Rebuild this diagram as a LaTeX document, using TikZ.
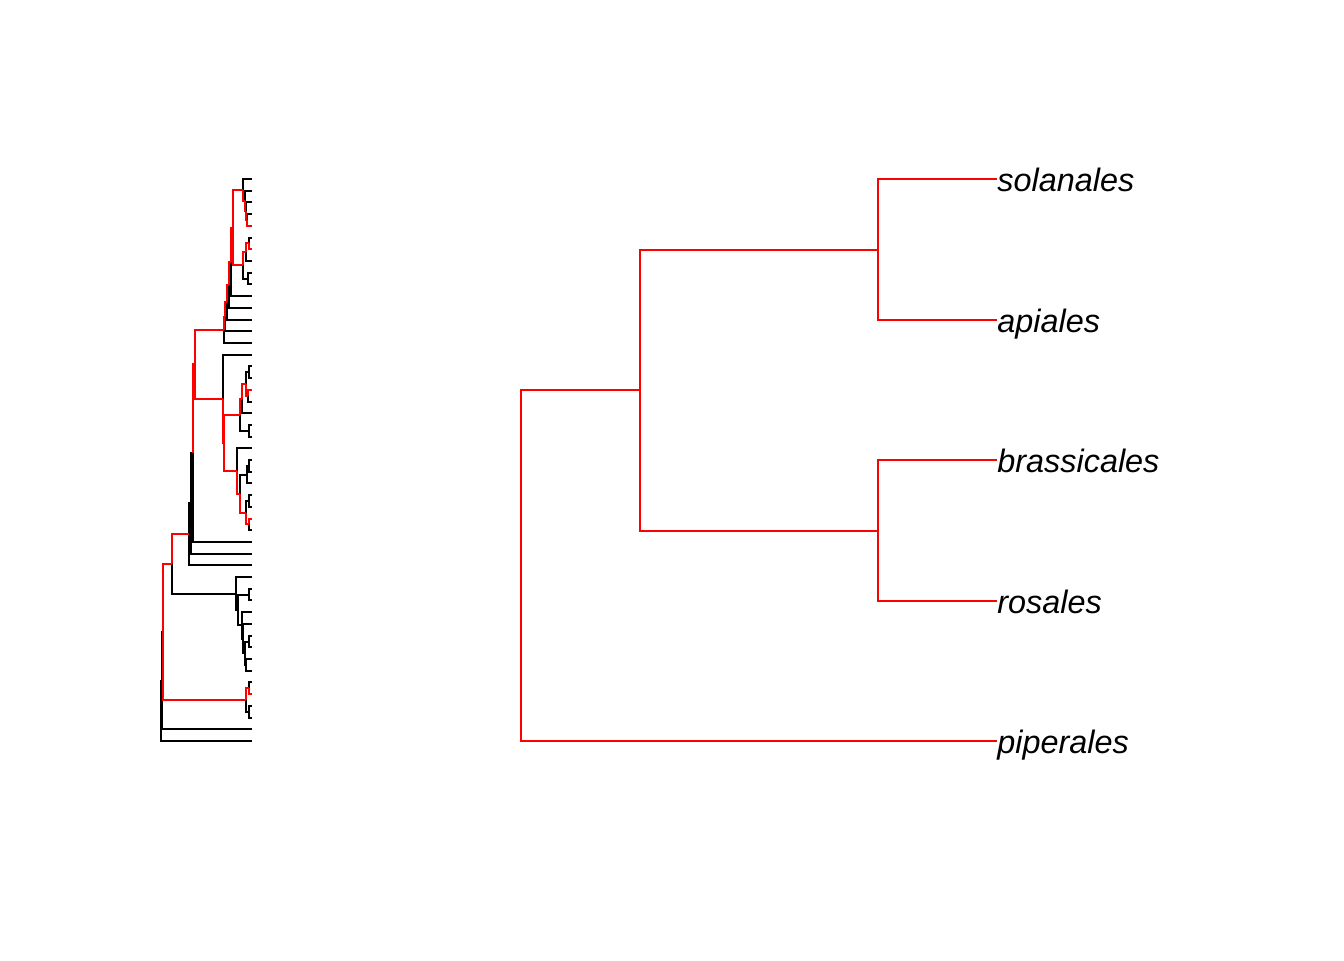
\documentclass[tikz,border=0pt]{standalone}
\usepackage{fontspec}
\setmainfont{Liberation Sans}
\newcommand{\dbr}[5]{\draw[blk] (#2,#3) -- (#1,#3) -- (#1,#5) -- (#4,#5);}
\newcommand{\red}[4]{\draw[rbr] (#1,#2) -- (#1,#4) -- (#3,#4);}
\tikzset{
  blk/.style={draw=black, line width=1pt},
  rbr/.style={draw=red, line width=1pt},
  leaflab/.style={anchor=base west, inner sep=0pt, font=\fontsize{16.2}{19}\selectfont\itshape, yshift=-6.3pt},
}
\begin{document}
\begin{tikzpicture}[x=0.5pt, y=-0.5pt]
\useasboundingbox (0,0) rectangle (1344,960);
% ---------------- left dendrogram (black) ----------------
\def\L{252}
% T1
\dbr{247}{\L}{214.1}{\L}{225.8}
\dbr{245.7}{\L}{202.4}{247}{220.0}
\dbr{244.5}{\L}{190.7}{245.7}{211.2}
\dbr{243.3}{\L}{179.0}{244.5}{201.0}
% T2
\dbr{249.3}{\L}{237.5}{\L}{249.2}
\dbr{246}{249.3}{243.4}{\L}{261.0}
\dbr{247.5}{\L}{272.7}{\L}{284.4}
\dbr{243.3}{246}{252.2}{247.5}{278.6}
% T
\dbr{233.3}{243.3}{190.0}{243.3}{265.4}
% ladder
\dbr{230.5}{233.3}{227.7}{\L}{296.1}
\dbr{228.5}{230.5}{261.9}{\L}{307.8}
\dbr{226.5}{228.5}{284.9}{\L}{319.5}
\dbr{225}{226.5}{302.2}{\L}{331.2}
\dbr{224}{225}{316.7}{\L}{342.9}
% M1
\dbr{249.3}{\L}{366.3}{\L}{378.0}
\dbr{248}{\L}{389.7}{\L}{401.5}
\dbr{245.7}{249.3}{372.2}{248}{395.6}
\dbr{241.5}{245.7}{383.9}{\L}{413.2}
\dbr{249.3}{\L}{424.9}{\L}{436.6}
\dbr{240}{241.5}{398.6}{249.3}{430.8}
% M2
\dbr{249.3}{\L}{460.0}{\L}{471.7}
\dbr{246.7}{249.3}{465.9}{\L}{483.4}
\dbr{249}{\L}{495.1}{\L}{506.8}
\dbr{249}{\L}{518.5}{\L}{530.2}
\dbr{245.7}{249}{501.0}{249}{524.4}
\dbr{239.5}{246.7}{474.6}{245.7}{512.7}
\dbr{237.3}{\L}{448.3}{239.5}{493.7}
% M', M
\dbr{224}{240}{414.7}{237.3}{471.0}
\dbr{222.7}{\L}{354.6}{224}{442.9}
% P ladder
\dbr{195}{224}{329.8}{222.7}{398.7}
\dbr{193}{195}{364.3}{\L}{541.9}
\dbr{191}{193}{453.1}{\L}{553.6}
\dbr{189.3}{191}{503.4}{\L}{565.3}
% C
\dbr{249.3}{\L}{588.7}{\L}{600.4}
\dbr{249}{\L}{635.6}{\L}{647.3}
\dbr{246}{\L}{659.0}{\L}{670.7}
\dbr{245}{249}{641.5}{246}{664.9}
\dbr{243}{\L}{623.9}{245}{653.2}
\dbr{241.7}{\L}{612.2}{243}{638.6}
\dbr{238.3}{249.3}{594.6}{241.7}{625.4}
\dbr{236}{\L}{577.0}{238.3}{610.0}
% A
\dbr{171.7}{189.3}{534.3}{236}{593.5}
% D
\dbr{249.3}{\L}{682.4}{\L}{694.1}
\dbr{249.3}{\L}{705.8}{\L}{717.5}
\dbr{246}{249.3}{688.3}{249.3}{711.7}
% root part
\dbr{163.3}{171.7}{563.9}{246}{700.0}
\dbr{161.7}{163.3}{632.0}{\L}{729.2}
\dbr{160.5}{161.7}{680.6}{\L}{740.9}
% ---------------- left dendrogram (red highlights) ----------------
\red{163.3}{632.0}{171.7}{563.9}
\red{163.3}{632.0}{246}{700.0}
\red{246}{700.0}{249.3}{688.3}
\red{249.3}{688.3}{\L}{694.1}
\red{171.7}{563.9}{189.3}{534.3}
\red{193}{453.1}{195}{364.3}
\red{195}{364.3}{224}{329.8}
\red{195}{364.3}{222.7}{398.7}
% ladder to T
\red{224}{329.8}{225}{316.7}
\red{225}{316.7}{226.5}{302.2}
\red{226.5}{302.2}{228.5}{284.9}
\red{228.5}{284.9}{230.5}{261.9}
\red{230.5}{261.9}{233.3}{227.7}
\red{233.3}{227.7}{243.3}{190.0}
\red{233.3}{227.7}{243.3}{265.4}
\red{243.3}{190.0}{244.5}{201.0}
\red{244.5}{201.0}{245.7}{211.2}
\red{245.7}{211.2}{247}{220.0}
\red{247}{220.0}{\L}{225.8}
\red{243.3}{265.4}{246}{252.2}
\red{246}{252.2}{249.3}{243.4}
\red{249.3}{243.4}{\L}{249.2}
% M
\red{222.7}{398.7}{224}{442.9}
\red{224}{442.9}{240}{414.7}
\red{224}{442.9}{237.3}{471.0}
\red{240}{414.7}{241.5}{398.6}
\red{241.5}{398.6}{245.7}{383.9}
\red{245.7}{383.9}{248}{395.6}
\red{248}{395.6}{\L}{389.7}
\red{237.3}{471.0}{239.5}{493.7}
\red{239.5}{493.7}{245.7}{512.7}
\red{245.7}{512.7}{249}{524.4}
\red{249}{524.4}{\L}{518.5}
% ---------------- right dendrogram ----------------
\node[leaflab] (sol) at (997,179) {solanales};
\node[leaflab] (api) at (997,320) {apiales};
\node[leaflab] (bra) at (997,460) {brassicales};
\node[leaflab] (ros) at (997,601) {rosales};
\node[leaflab] (pip) at (997,741) {piperales};
\coordinate (sa) at (878,249.5);
\coordinate (br) at (878,530.5);
\coordinate (sabr) at (640,390);
\coordinate (root) at (521,565.5);
\draw[rbr] (sol.base west |- 0,179) -| (sa) |- (api.base west |- 0,320);
\draw[rbr] (bra.base west |- 0,460) -| (br) |- (ros.base west |- 0,601);
\draw[rbr] (sa) -| (sabr) |- (br);
\draw[rbr] (sabr) -| (root) |- (pip.base west |- 0,741);
\end{tikzpicture}
\end{document}
